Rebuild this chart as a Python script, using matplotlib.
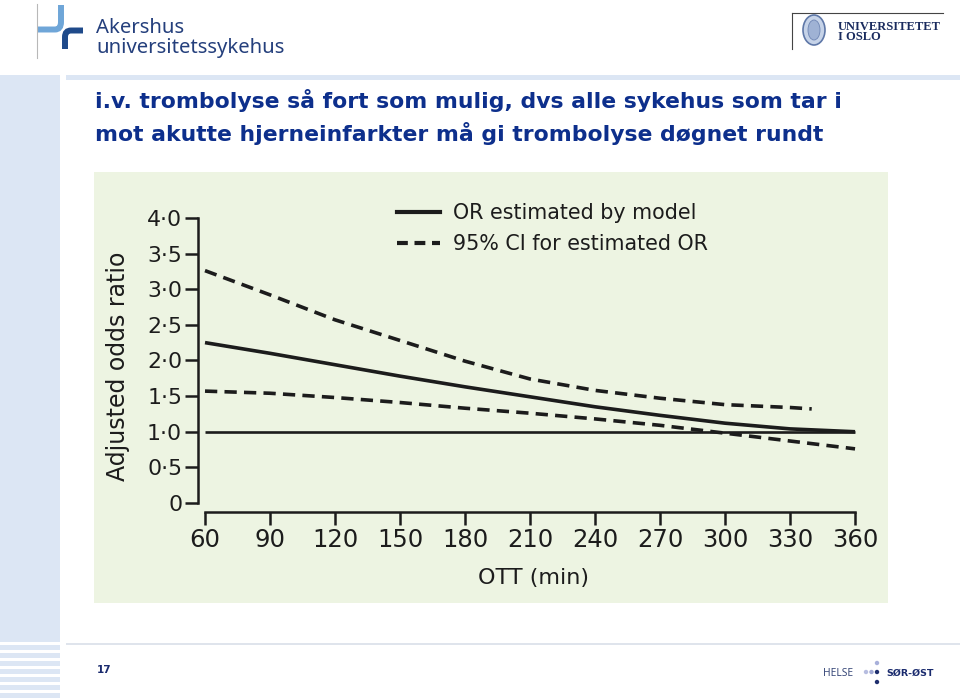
import matplotlib
matplotlib.use("Agg")
import matplotlib.pyplot as plt
from matplotlib import font_manager as fm
from matplotlib.patches import Rectangle, Ellipse, PathPatch
from matplotlib.path import Path
from matplotlib.lines import Line2D

# ---------------- data ----------------
ott = [60, 90, 120, 150, 180, 210, 240, 270, 300, 330, 360]
or_estimated = [2.25, 2.10, 1.94, 1.78, 1.63, 1.49, 1.35, 1.23, 1.12, 1.04, 1.00]
ci_lower = [1.57, 1.54, 1.48, 1.41, 1.33, 1.26, 1.18, 1.09, 0.98, 0.87, 0.76]
ott_upper = [60, 90, 120, 150, 180, 210, 240, 270, 300, 330, 340]
ci_upper = [3.26, 2.92, 2.57, 2.28, 1.99, 1.74, 1.58, 1.47, 1.38, 1.34, 1.32]
ref_x = [60, 360]
ref_y = [1.0, 1.0]

x_ticks = [60, 90, 120, 150, 180, 210, 240, 270, 300, 330, 360]
y_ticks = [0, 0.5, 1.0, 1.5, 2.0, 2.5, 3.0, 3.5, 4.0]
y_tick_labels = ["0", "0·5", "1·0", "1·5", "2·0", "2·5", "3·0", "3·5", "4·0"]
legend_labels = ["OR estimated by model", "95% CI for estimated OR"]

title_lines = ["i.v. trombolyse så fort som mulig, dvs alle sykehus som tar i",
               "mot akutte hjerneinfarkter må gi trombolyse døgnet rundt"]
x_label = "OTT (min)"
y_label = "Adjusted odds ratio"
page_number = "17"

bold_sans = fm.FontProperties(family="DejaVu Sans", weight="bold")
reg_sans = fm.FontProperties(family="Noto Sans")
serif_bold = fm.FontProperties(family="Liberation Serif", weight="bold")

# ---------------- figure ----------------
W, H = 960, 700
fig = plt.figure(figsize=(W / 100, H / 100), dpi=100)
fig.patch.set_facecolor("white")

deco = fig.add_axes([0, 0, 1, 1], zorder=0)
deco.set_xlim(0, W)
deco.set_ylim(H, 0)
deco.axis("off")

side = "#dce6f4"
deco.add_patch(Rectangle((0, 75), 60, 567, color=side, lw=0))
deco.add_patch(Rectangle((66, 75), W - 66, 5, color=side, lw=0))
for y0 in [645, 653, 661, 669, 677, 685, 693]:
    deco.add_patch(Rectangle((0, y0), 60, 5, color=side, lw=0))
deco.add_patch(Rectangle((66, 642.5), W - 66, 2.5, color="#dfe4ec", lw=0))

# chart panel
deco.add_patch(Rectangle((94, 172), 794, 431, color="#edf4e2", lw=0))

# Akershus logo
deco.plot([37, 37], [4, 58], color="#b8b8b8", lw=0.8)
p1 = Path([(37, 29.5), (55, 29.5), (61, 29.5), (61, 22), (61, 5)],
          [Path.MOVETO, Path.LINETO, Path.CURVE3, Path.CURVE3, Path.LINETO])
deco.add_patch(PathPatch(p1, fill=False, edgecolor="#6fa6d8", lw=4.3, capstyle="butt"))
p2 = Path([(83, 30.5), (71, 30.5), (65, 30.5), (65, 37), (65, 49)],
          [Path.MOVETO, Path.LINETO, Path.CURVE3, Path.CURVE3, Path.LINETO])
deco.add_patch(PathPatch(p2, fill=False, edgecolor="#1f4a8a", lw=4.3, capstyle="butt"))
deco.text(96, 33, "Akershus", family="Noto Sans", fontsize=14.6, color="#243f7c", va="baseline")
deco.text(96, 53, "universitetssykehus", family="Noto Sans", fontsize=14.6, color="#243f7c", va="baseline")

# UiO logo
deco.plot([792, 943], [13, 13], color="#444444", lw=0.8)
deco.plot([792, 792], [13, 49], color="#444444", lw=0.8)
deco.add_patch(Ellipse((814, 30), 22, 30, facecolor="#c6d3e8", edgecolor="#5f78a8", lw=1.2))
deco.add_patch(Ellipse((814, 30), 12, 20, facecolor="#9fb2d4", edgecolor="#6f86b4", lw=0.6))
uio_fp = serif_bold.copy()
uio_fp.set_size(9.0)
deco.text(838, 29.5, "UNIVERSITETET", fontproperties=uio_fp, color="#1a2b5e", va="baseline")
deco.text(838, 40, "I OSLO", fontproperties=uio_fp, color="#1a2b5e", va="baseline")

# title (size fitted so that the first line spans the same width as the reference)
title_fp = bold_sans.copy()
title_fp.set_size(15.0)
t1 = deco.text(95, 108, title_lines[0], fontproperties=title_fp, color="#0d2f8c", va="baseline")
t2 = deco.text(95, 141, title_lines[1], fontproperties=title_fp, color="#0d2f8c", va="baseline")
renderer = fig.canvas.get_renderer()
w1 = t1.get_window_extent(renderer).width
if w1 > 0:
    new_size = 15.0 * 747.0 / w1
    t1.set_fontsize(new_size)
    t2.set_fontsize(new_size)

# footer
small_bold = bold_sans.copy()
small_bold.set_size(7.5)
deco.text(97, 673, page_number, fontproperties=small_bold, color="#1a2b6e", va="baseline")
helse_fp = reg_sans.copy()
helse_fp.set_size(7.4)
deco.text(823, 676, "HELSE", fontproperties=helse_fp, color="#3a4a7a", va="baseline")
for (dx, dy, c) in [(866, 672, "#b7bde0"), (871.5, 672, "#a0a8d4"), (877, 672, "#1f2f6e"),
                    (877, 663, "#a8b0da"), (877, 682, "#1f2f6e")]:
    deco.add_patch(Ellipse((dx, dy), 4.4, 4.4, color=c, lw=0))
sor_fp = bold_sans.copy()
sor_fp.set_size(6.8)
deco.text(886, 676, "SØR-ØST", fontproperties=sor_fp, color="#1a2b6e", va="baseline")

# ---------------- main axes ----------------
ax_l, ax_r, ax_t, ax_b = 198, 857, 214.3, 512.3
ax = fig.add_axes([ax_l / W, 1 - ax_b / H, (ax_r - ax_l) / W, (ax_b - ax_t) / H], zorder=2)
ax.patch.set_alpha(0)
ax.set_xlim(56.77, 360.9)
ax.set_ylim(-0.13, 4.05)

ink = "#1c1c1c"
lw_main = 2.6
ax.plot(ref_x, ref_y, color=ink, lw=1.9, solid_capstyle="butt")
ax.plot(ott, or_estimated, color=ink, lw=lw_main, solid_capstyle="butt")
ax.plot(ott_upper, ci_upper, color=ink, lw=lw_main, linestyle=(0, (3.4, 2.0)))
ax.plot(ott, ci_lower, color=ink, lw=lw_main, linestyle=(0, (3.4, 2.0)))

for s in ["top", "right"]:
    ax.spines[s].set_visible(False)
ax.spines["left"].set_bounds(0, 4)
ax.spines["bottom"].set_bounds(60, 360)
for s in ["left", "bottom"]:
    ax.spines[s].set_linewidth(1.8)
    ax.spines[s].set_color(ink)

ax.set_xticks(x_ticks)
ax.set_xticklabels([str(v) for v in x_ticks])
ax.set_yticks(y_ticks)
ax.set_yticklabels(y_tick_labels)
ax.tick_params(axis="both", direction="out", length=9.4, width=1.8, color=ink, labelcolor=ink)
ax.tick_params(axis="y", labelsize=15.8, pad=2)
ax.tick_params(axis="x", labelsize=17.5, pad=2)
for t in ax.get_xticklabels() + ax.get_yticklabels():
    t.set_family("DejaVu Sans")

fig.text(118 / W, 1 - 366 / H, y_label, rotation=90, ha="center", va="center",
         family="DejaVu Sans", fontsize=17, color=ink)
fig.text(533 / W, 1 - 578 / H, x_label, ha="center", va="center",
         family="DejaVu Sans", fontsize=16, color=ink)

h1 = Line2D([], [], color=ink, lw=3.0)
h2 = Line2D([], [], color=ink, lw=3.0, linestyle=(0, (2.6, 1.6)))
leg = ax.legend([h1, h2], legend_labels, loc="upper left",
                bbox_to_anchor=(397 / W, 1 - 203 / H), bbox_transform=fig.transFigure,
                frameon=False, handlelength=2.08, handletextpad=0.63,
                labelspacing=0.55, borderpad=0, borderaxespad=0,
                prop={"family": "DejaVu Sans", "size": 14.9})
for t in leg.get_texts():
    t.set_color(ink)

fig.savefig("out.png", dpi=100)
